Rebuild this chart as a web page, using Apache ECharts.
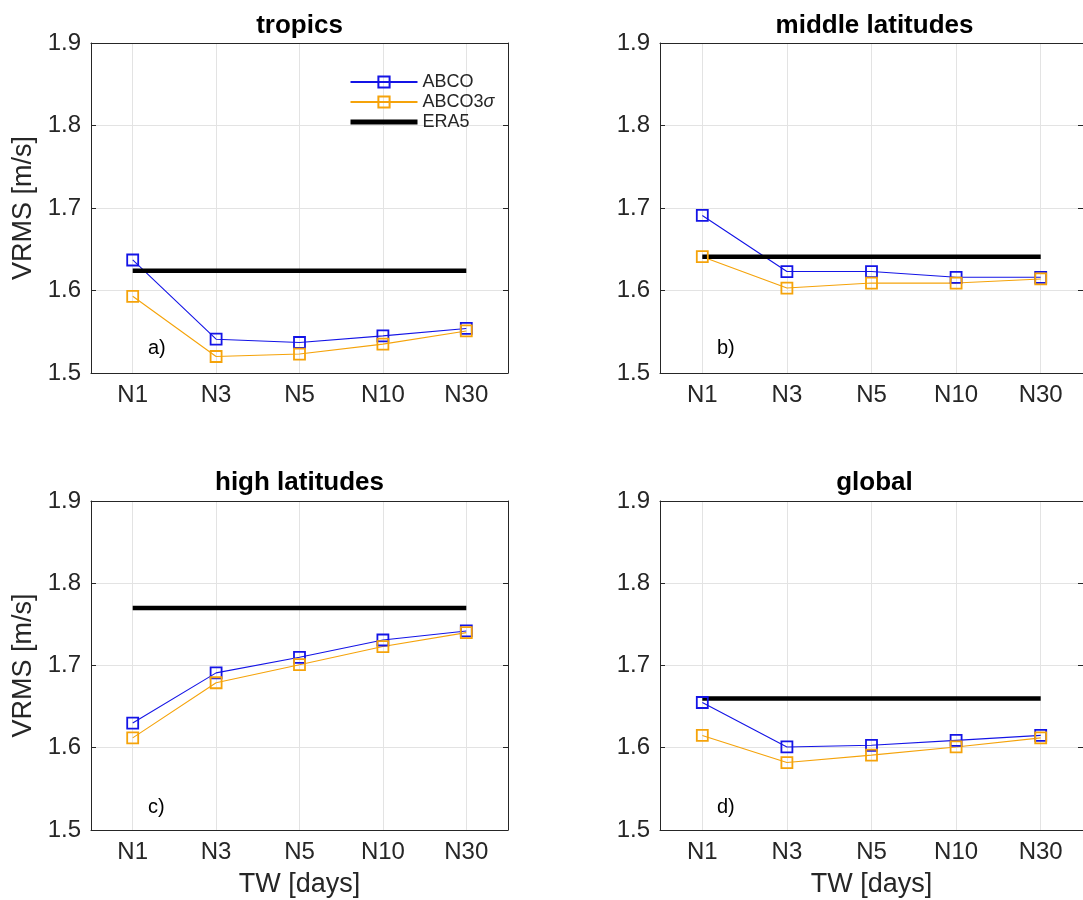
<!DOCTYPE html>
<html>
<head>
<meta charset="utf-8">
<script src="https://cdn.jsdelivr.net/npm/echarts@6/dist/echarts.min.js"></script>
<style>
  html, body { margin: 0; padding: 0; background: #fff; }
  #chart { width: 1083px; height: 900px; }
</style>
</head>
<body>
<div id="chart"></div>
<script>
const categories = ['N1', 'N3', 'N5', 'N10', 'N30']
const panelTitles = ['tropics', 'middle latitudes', 'high latitudes', 'global']
const panelTags = ['a)', 'b)', 'c)', 'd)']
const yTicks = [1.5, 1.6, 1.7, 1.8, 1.9]

const tropicsAbco = [1.637, 1.541, 1.537, 1.545, 1.554]
const tropicsAbco3s = [1.593, 1.520, 1.523, 1.535, 1.551]
const midlatAbco = [1.691, 1.623, 1.623, 1.616, 1.616]
const midlatAbco3s = [1.641, 1.603, 1.609, 1.609, 1.614]
const highlatAbco = [1.630, 1.691, 1.710, 1.731, 1.742]
const highlatAbco3s = [1.612, 1.679, 1.701, 1.723, 1.740]
const globalAbco = [1.655, 1.601, 1.603, 1.609, 1.615]
const globalAbco3s = [1.615, 1.582, 1.591, 1.601, 1.612]
const era5 = [1.624, 1.641, 1.770, 1.660]

const abco = [tropicsAbco, midlatAbco, highlatAbco, globalAbco]
const abco3s = [tropicsAbco3s, midlatAbco3s, highlatAbco3s, globalAbco3s]

const FONT = '"Liberation Sans", Arial, Helvetica, sans-serif'
const INK = '#262626'
const BLUE = '#1414e6'
const ORANGE = '#f5a30a'

const boxes = [
  { left: 91, top: 43, width: 417, height: 330 },
  { left: 660, top: 43, width: 429, height: 330 },
  { left: 91, top: 501, width: 417, height: 329 },
  { left: 660, top: 501, width: 429, height: 329 }
]

const chart = echarts.init(document.getElementById('chart'))

const grid = boxes.map((b) => ({ ...b, containLabel: false }))
const xAxis = []
const yAxis = []
const series = []
const title = []

boxes.forEach((b, i) => {
  const bottomRow = i >= 2
  const leftCol = i % 2 === 0
  xAxis.push({
    type: 'category',
    gridIndex: i,
    data: categories,
    boundaryGap: true,
    name: bottomRow ? 'TW [days]' : '',
    nameLocation: 'middle',
    nameGap: 41,
    nameTextStyle: { color: INK, fontSize: 27, fontFamily: FONT },
    axisLine: { lineStyle: { color: INK, width: 1 } },
    axisTick: { inside: true, alignWithLabel: true, length: 5, lineStyle: { color: INK } },
    axisLabel: { color: INK, fontSize: 24, fontFamily: FONT, margin: 10 },
    splitLine: { show: true, alignWithLabel: true, lineStyle: { color: '#e3e3e3', width: 1 } }
  })
  xAxis.push({
    type: 'category',
    gridIndex: i,
    data: categories,
    position: 'top',
    boundaryGap: true,
    axisLine: { lineStyle: { color: INK, width: 1 } },
    axisTick: { inside: true, alignWithLabel: true, length: 5, lineStyle: { color: INK } },
    axisLabel: { show: false },
    splitLine: { show: false }
  })
  yAxis.push({
    type: 'value',
    gridIndex: i,
    min: yTicks[0],
    max: yTicks[yTicks.length - 1],
    interval: 0.1,
    name: leftCol ? 'VRMS [m/s]' : '',
    nameLocation: 'middle',
    nameRotate: 90,
    nameGap: 54,
    nameTextStyle: { color: INK, fontSize: 27, fontFamily: FONT },
    axisLine: { show: true, lineStyle: { color: INK, width: 1 } },
    axisTick: { show: true, inside: true, length: 5, lineStyle: { color: INK } },
    axisLabel: { color: INK, fontSize: 24, fontFamily: FONT, margin: 10, formatter: (v) => v.toFixed(1) },
    splitLine: { show: true, lineStyle: { color: '#e3e3e3', width: 1 } }
  })
  yAxis.push({
    type: 'value',
    gridIndex: i,
    position: 'right',
    min: yTicks[0],
    max: yTicks[yTicks.length - 1],
    interval: 0.1,
    axisLine: { show: true, lineStyle: { color: INK, width: 1 } },
    axisTick: { show: true, inside: true, length: 5, lineStyle: { color: INK } },
    axisLabel: { show: false },
    splitLine: { show: false }
  })

  const xi = i * 2
  const yi = i * 2
  series.push({
    name: 'ABCO',
    type: 'line',
    xAxisIndex: xi,
    yAxisIndex: yi,
    data: abco[i],
    symbol: 'rect',
    symbolSize: 11,
    itemStyle: { color: 'rgba(255,255,255,0)', borderColor: BLUE, borderWidth: 1.8 },
    lineStyle: { color: BLUE, width: 1.1 }
  })
  series.push({
    name: 'ABCO3σ',
    type: 'line',
    xAxisIndex: xi,
    yAxisIndex: yi,
    data: abco3s[i],
    symbol: 'rect',
    symbolSize: 11,
    itemStyle: { color: 'rgba(255,255,255,0)', borderColor: ORANGE, borderWidth: 1.8 },
    lineStyle: { color: ORANGE, width: 1.1 }
  })
  series.push({
    name: 'ERA5',
    type: 'line',
    xAxisIndex: xi,
    yAxisIndex: yi,
    data: categories.map(() => era5[i]),
    symbol: 'none',
    itemStyle: { color: '#000' },
    lineStyle: { color: '#000', width: 4.5 }
  })

  title.push({
    text: panelTitles[i],
    left: b.left + b.width / 2,
    top: bottomRow ? 470 : 13,
    textAlign: 'center',
    textVerticalAlign: 'top',
    padding: 0,
    textStyle: { color: '#000', fontSize: 26, fontWeight: 'bold', fontFamily: FONT }
  })
  title.push({
    text: panelTags[i],
    left: b.left + 57,
    top: bottomRow ? 797 : 338,
    padding: 0,
    textStyle: { color: '#000', fontSize: 20, fontWeight: 'normal', fontFamily: FONT }
  })
})

chart.setOption({
  animation: false,
  backgroundColor: '#fff',
  title,
  legend: {
    data: [
      'ABCO',
      'ABCO3σ',
      { name: 'ERA5', itemStyle: { opacity: 0 }, lineStyle: { width: 5 } }
    ],
    orient: 'vertical',
    left: 348,
    top: 73,
    padding: 0,
    itemWidth: 67,
    itemHeight: 14,
    itemGap: 2,
    formatter: (name) => name === 'ABCO3σ' ? 'ABCO3{i|σ}' : name,
    textStyle: {
      color: INK,
      fontSize: 18,
      lineHeight: 14,
      fontFamily: FONT,
      rich: { i: { fontStyle: 'italic', fontSize: 18, lineHeight: 14, fontFamily: FONT, color: INK } }
    }
  },
  grid,
  xAxis,
  yAxis,
  series
})
</script>
</body>
</html>
